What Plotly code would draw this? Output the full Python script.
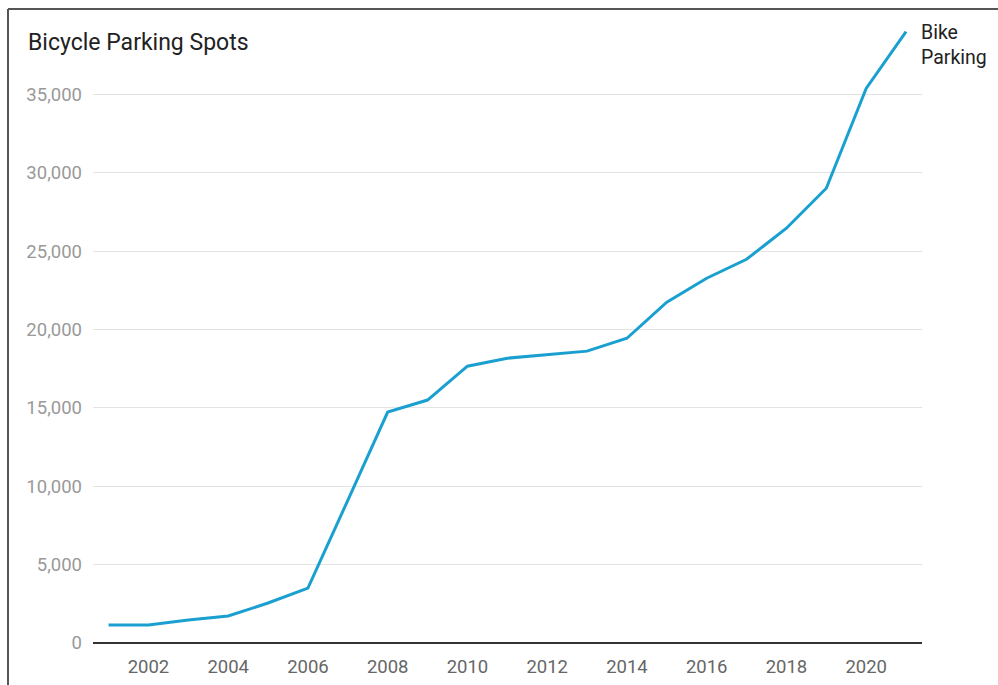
import plotly.graph_objects as go

years = list(range(2001, 2022))
bike_parking = [1150, 1150, 1470, 1720, 2550, 3500, 9100, 14730, 15500, 17660,
                18170, 18380, 18620, 19440, 21740, 23270, 24480, 26460, 29010, 35380, 39000]
series_name = "Bike Parking"
title_text = "Bicycle Parking Spots"
y_ticks = [0, 5000, 10000, 15000, 20000, 25000, 30000, 35000]
x_ticks = list(range(2002, 2021, 2))

fig = go.Figure()
fig.add_trace(go.Scatter(x=years, y=bike_parking, mode="lines", name=series_name,
                         line=dict(color="#1aa0d0", width=3), showlegend=False))

fig.add_annotation(x=years[-1], y=bike_parking[-1], text="Bike<br>Parking",
                   xanchor="left", yanchor="top", align="left", showarrow=False,
                   xshift=13, yshift=13, font=dict(family="Roboto", size=19.5, color="#222"))

L, R, T, B = 93, 76, 16, 42
W, H = 998, 685
pw = W - L - R
ph = H - T - B

fig.add_shape(type="line", xref="paper", yref="paper",
              x0=(8 - L) / pw, x1=(W + 5 - L) / pw, y0=(H - B - 9) / ph, y1=(H - B - 9) / ph,
              line=dict(color="#555", width=2))
fig.add_shape(type="line", xref="paper", yref="paper",
              x0=(8 - L) / pw, x1=(8 - L) / pw, y0=(H - B - 9) / ph, y1=(H - B - H - 5) / ph,
              line=dict(color="#555", width=2))

fig.update_layout(
    width=W, height=H,
    margin=dict(l=L, r=R, t=T, b=B),
    paper_bgcolor="white", plot_bgcolor="white",
    font=dict(family="Roboto"),
    title=dict(text=title_text, x=28 / W, xref="container", xanchor="left",
               y=1 - 42 / H, yref="container", yanchor="middle",
               font=dict(family="Roboto", size=23, color="#222")),
    xaxis=dict(range=[2000.61, 2021.4], tickvals=x_ticks, ticktext=[str(t) for t in x_ticks],
               showgrid=False, zeroline=False, showline=False, ticks="",
               ticklabelstandoff=10, automargin=False,
               tickfont=dict(size=18.5, color="#666")),
    yaxis=dict(range=[0, 40000], tickvals=y_ticks, tickformat=",",
               showgrid=True, gridcolor="#e3e3e3", gridwidth=1,
               zeroline=True, zerolinecolor="#333", zerolinewidth=2,
               showline=False, ticks="", ticklabelstandoff=10, automargin=False,
               tickfont=dict(size=18.5, color="#999")),
)

fig.write_html("out.html")
